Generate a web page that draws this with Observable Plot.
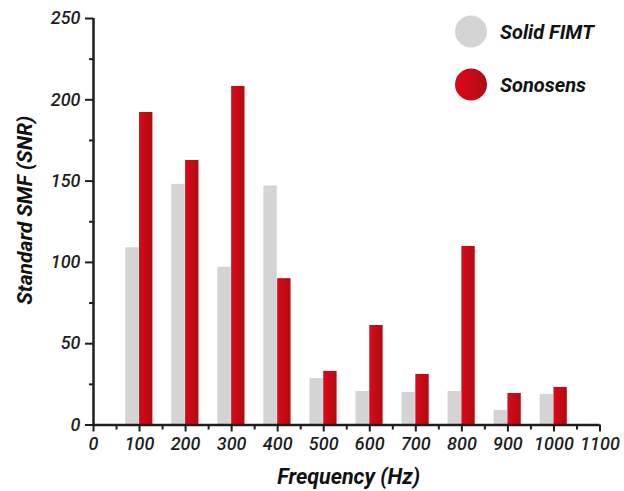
<!DOCTYPE html>
<html>
<head>
<meta charset="utf-8">
<script src="https://cdn.jsdelivr.net/npm/d3@7"></script>
<script src="https://cdn.jsdelivr.net/npm/@observablehq/plot@0.6"></script>
<style>
  html, body { margin: 0; padding: 0; background: #fff; }
  #chart { position: relative; width: 624px; height: 491px; }
</style>
</head>
<body>
<div id="chart"></div>
<script>
// ---- data ----
const frequencies = [100, 200, 300, 400, 500, 600, 700, 800, 900, 1000];
const solidFIMT = [109, 148, 97, 147, 28.6, 20.6, 20, 20.6, 9, 18.8];
const sonosens = [192.2, 162.7, 208.2, 90, 33, 61.2, 31.1, 109.8, 19.4, 23.1];
const seriesNames = ["Solid FIMT", "Sonosens"];
const xTicks = [0, 100, 200, 300, 400, 500, 600, 700, 800, 900, 1000, 1100];
const xMinorTicks = [50, 150, 250, 350, 450, 550, 650, 750, 850, 950, 1050];
const yTicks = [0, 50, 100, 150, 200, 250];
const yMinorTicks = [25, 75, 125, 175, 225];
const xTitle = "Frequency (Hz)";
const yTitle = "Standard SMF (SNR)";

const grayData = frequencies.map((f, i) => ({f, v: solidFIMT[i]}));
const redData = frequencies.map((f, i) => ({f, v: sonosens[i]}));

const axisColor = "#1e1e1e";
const font = "Roboto, 'Noto Sans', sans-serif";

const plot = Plot.plot({
  width: 624,
  height: 491,
  marginLeft: 93,
  marginRight: 24.5,
  marginTop: 18,
  marginBottom: 66.5,
  style: {fontFamily: font, color: axisColor, background: "white", overflow: "visible"},
  x: {domain: [0, 1100]},
  y: {domain: [0, 250]},
  marks: [
    Plot.rectY(grayData, {x1: d => d.f - 30, x2: d => d.f - 1, y: "v", fill: "#d4d4d4"}),
    Plot.rectY(redData, {x1: d => d.f, x2: d => d.f + 29, y: "v", fill: "url(#redGrad)"}),
    Plot.axisX({ticks: xTicks, tickSize: 7, tickPadding: 5, strokeWidth: 2, fontSize: 18,
      fontStyle: "italic", fontWeight: 500, label: null, tickFormat: d => String(d)}),
    Plot.axisX({ticks: xMinorTicks, tickSize: 5, strokeWidth: 2, text: null, label: null}),
    Plot.axisY({ticks: yTicks, tickSize: 8, tickPadding: 5, strokeWidth: 2, fontSize: 18,
      fontStyle: "italic", fontWeight: 500, label: null, tickFormat: d => String(d)}),
    Plot.axisY({ticks: yMinorTicks, tickSize: 4, strokeWidth: 2, text: null, label: null}),
    Plot.ruleY([0], {stroke: axisColor, strokeWidth: 2.5}),
    Plot.ruleX([0], {stroke: axisColor, strokeWidth: 2.5}),
    Plot.text([xTitle], {text: d => d, frameAnchor: "bottom", dx: 2, dy: 58.5, lineAnchor: "bottom",
      textAnchor: "middle", fontSize: 21.5, fontWeight: 700, fontStyle: "italic", fill: "#111"}),
    Plot.text([yTitle], {text: d => d, frameAnchor: "left", rotate: -90, dx: -68, dy: -11.5,
      textAnchor: "middle", lineAnchor: "middle", fontSize: 21, fontWeight: 700, fontStyle: "italic", fill: "#111"})
  ]
});

// gradient definitions
const svg = d3.select(plot);
const defs = svg.insert("defs", ":first-child");
const grad = defs.append("linearGradient").attr("id", "redGrad")
  .attr("x1", "0%").attr("x2", "100%").attr("y1", "0%").attr("y2", "0%");
grad.append("stop").attr("offset", "0%").attr("stop-color", "#e30519");
grad.append("stop").attr("offset", "100%").attr("stop-color", "#a80f13");

// legend
const legendFills = ["#d4d4d4", "url(#redGrad)"];
const lg = svg.append("g").attr("font-family", font).attr("text-anchor", "start");
seriesNames.forEach((name, i) => {
  const cy = 31.5 + i * 53;
  lg.append("circle").attr("cx", 471).attr("cy", cy).attr("r", 16).attr("fill", legendFills[i]);
  lg.append("text").attr("x", 500).attr("y", cy).attr("dy", "0.36em")
    .attr("text-anchor", "start")
    .attr("font-size", 20).attr("font-weight", 700).attr("font-style", "italic")
    .attr("fill", "#111").text(name);
});

document.getElementById("chart").appendChild(plot);
</script>
</body>
</html>
